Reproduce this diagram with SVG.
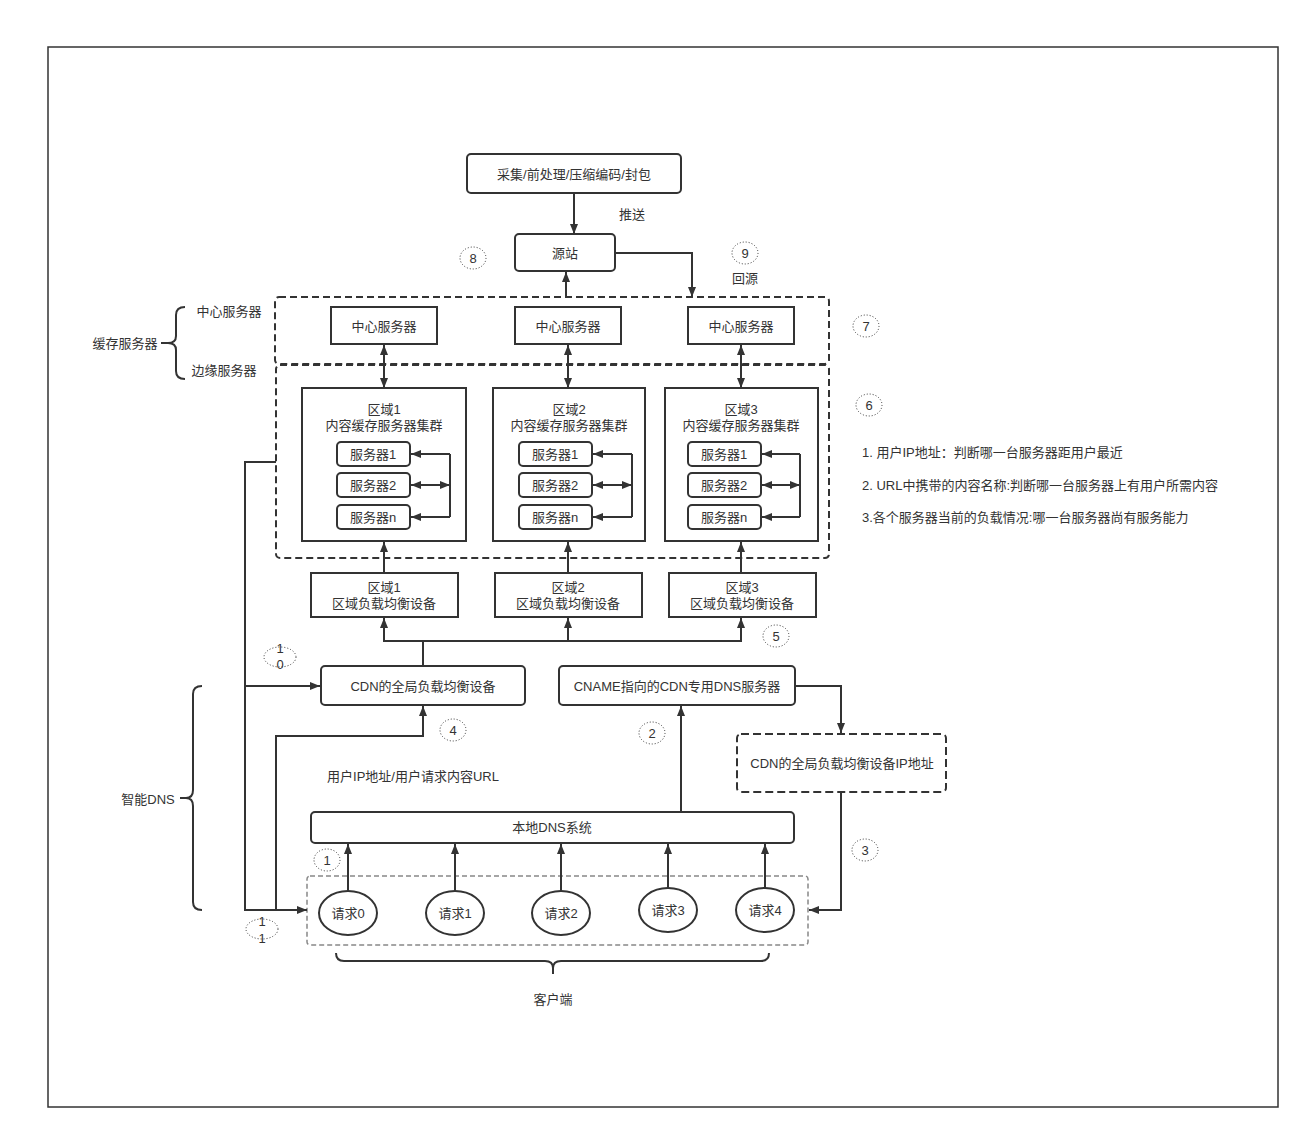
<svg xmlns="http://www.w3.org/2000/svg" width="1310" height="1140" viewBox="0 0 1310 1140">
<style>
  text { font-family: "Liberation Sans", "Noto Sans CJK SC", sans-serif; font-size: 13px; fill: #333; text-anchor: middle; dominant-baseline: central; }
  .lt { text-anchor: start; }
  .box { fill: #fff; stroke: #333; stroke-width: 2; }
  .dash { fill: none; stroke: #333; stroke-width: 2; stroke-dasharray: 7 4; }
  .gdash { fill: none; stroke: #888; stroke-width: 1.5; stroke-dasharray: 5 3; }
  .edge { fill: none; stroke: #333; stroke-width: 2; }
  .arr { marker-end: url(#ah); }
  .both { marker-start: url(#ahs); marker-end: url(#ah); }
  .num { fill: none; stroke: #333; stroke-width: 1; stroke-dasharray: 1 2; }
  .brace { fill: none; stroke: #333; stroke-width: 2; }
</style>
<defs>
  <marker id="ah" viewBox="0 0 10 8" refX="10" refY="4" markerWidth="10" markerHeight="9" markerUnits="userSpaceOnUse" orient="auto">
    <path d="M0,0 L10,4 L0,8 z" fill="#333"/>
  </marker>
  <marker id="ahs" viewBox="0 0 10 8" refX="10" refY="4" markerWidth="10" markerHeight="9" markerUnits="userSpaceOnUse" orient="auto-start-reverse">
    <path d="M0,0 L10,4 L0,8 z" fill="#333"/>
  </marker>
</defs>

<rect x="48" y="47" width="1230" height="1060" fill="#fff" stroke="#333" stroke-width="1.5"/>

<!-- grouping frames -->
<rect class="dash" x="275" y="297" width="554" height="67" rx="4"/>
<rect class="dash" x="276" y="365" width="553" height="193" rx="4"/>
<rect class="gdash" x="307" y="876" width="501" height="69" rx="3"/>

<!-- braces and side labels -->
<g id="brace-cache">
  <path class="brace" d="M185,307 Q176,307 176,315 L176,336 Q176,343 168,343 L161,343 M168,343 Q176,343 176,350 L176,371 Q176,379 185,379"/>
  <text x="125" y="343">缓存服务器</text>
  <text x="229" y="311">中心服务器</text>
  <text x="224" y="370">边缘服务器</text>
</g>
<g id="brace-dns">
  <path class="brace" d="M202,686 Q193,686 193,694 L193,790 Q193,798 186,798 L180,798 M186,798 Q193,798 193,806 L193,902 Q193,910 202,910"/>
  <text x="148" y="799">智能DNS</text>
</g>
<g id="brace-client">
  <path class="brace" d="M336,953 Q336,961 344,961 L545,961 Q553,961 553,968 L553,974 M553,968 Q553,961 561,961 L761,961 Q769,961 769,953"/>
  <text x="553" y="999">客户端</text>
</g>

<!-- nodes -->
<g id="capture"><rect class="box" x="467" y="154" width="214" height="39" rx="4"/><text x="574" y="174">采集/前处理/压缩编码/封包</text></g>
<text x="632" y="214">推送</text>
<g id="origin"><rect class="box" x="515" y="234" width="100" height="37" rx="4"/><text x="565" y="253">源站</text></g>
<text x="745" y="278">回源</text>

<g id="center1"><rect class="box" x="331" y="307" width="106" height="37"/><text x="384" y="326">中心服务器</text></g>
<g id="center2"><rect class="box" x="515" y="307" width="106" height="37"/><text x="568" y="326">中心服务器</text></g>
<g id="center3"><rect class="box" x="688" y="307" width="106" height="37"/><text x="741" y="326">中心服务器</text></g>

<g id="cluster1">
  <rect class="box" x="302" y="388" width="164" height="153"/>
  <text x="384" y="409">区域1</text><text x="384" y="425">内容缓存服务器集群</text>
</g>
<g id="cluster2">
  <rect class="box" x="493" y="388" width="152" height="153"/>
  <text x="569" y="409">区域2</text><text x="569" y="425">内容缓存服务器集群</text>
</g>
<g id="cluster3">
  <rect class="box" x="665" y="388" width="153" height="153"/>
  <text x="741" y="409">区域3</text><text x="741" y="425">内容缓存服务器集群</text>
</g>

<g id="r1s1"><rect class="box" x="337" y="442" width="73" height="24" rx="4"/><text x="373" y="454">服务器1</text></g>
<g id="r1s2"><rect class="box" x="337" y="473" width="73" height="24" rx="4"/><text x="373" y="485">服务器2</text></g>
<g id="r1sn"><rect class="box" x="337" y="505" width="73" height="24" rx="4"/><text x="373" y="517">服务器n</text></g>
<g id="r2s1"><rect class="box" x="519" y="442" width="73" height="24" rx="4"/><text x="555" y="454">服务器1</text></g>
<g id="r2s2"><rect class="box" x="519" y="473" width="73" height="24" rx="4"/><text x="555" y="485">服务器2</text></g>
<g id="r2sn"><rect class="box" x="519" y="505" width="73" height="24" rx="4"/><text x="555" y="517">服务器n</text></g>
<g id="r3s1"><rect class="box" x="688" y="442" width="73" height="24" rx="4"/><text x="724" y="454">服务器1</text></g>
<g id="r3s2"><rect class="box" x="688" y="473" width="73" height="24" rx="4"/><text x="724" y="485">服务器2</text></g>
<g id="r3sn"><rect class="box" x="688" y="505" width="73" height="24" rx="4"/><text x="724" y="517">服务器n</text></g>

<g id="lb1"><rect class="box" x="311" y="573" width="147" height="44"/><text x="384" y="587">区域1</text><text x="384" y="603">区域负载均衡设备</text></g>
<g id="lb2"><rect class="box" x="495" y="573" width="147" height="44"/><text x="568" y="587">区域2</text><text x="568" y="603">区域负载均衡设备</text></g>
<g id="lb3"><rect class="box" x="669" y="573" width="147" height="44"/><text x="742" y="587">区域3</text><text x="742" y="603">区域负载均衡设备</text></g>

<g id="global-lb"><rect class="box" x="321" y="666" width="204" height="39" rx="4"/><text x="423" y="686">CDN的全局负载均衡设备</text></g>
<g id="cname-dns"><rect class="box" x="559" y="666" width="236" height="39" rx="4"/><text x="677" y="686">CNAME指向的CDN专用DNS服务器</text></g>
<g id="global-lb-ip"><rect class="dash" x="737" y="734" width="209" height="58" rx="4" style="stroke-dasharray:8 4"/><text x="842" y="763">CDN的全局负载均衡设备IP地址</text></g>
<text x="413" y="776">用户IP地址/用户请求内容URL</text>
<g id="local-dns"><rect class="box" x="311" y="812" width="483" height="31" rx="4"/><text x="552" y="827">本地DNS系统</text></g>

<g id="req0"><ellipse class="box" cx="348" cy="913" rx="29" ry="22"/><text x="348" y="913">请求0</text></g>
<g id="req1"><ellipse class="box" cx="455" cy="913" rx="29" ry="22"/><text x="455" y="913">请求1</text></g>
<g id="req2"><ellipse class="box" cx="561" cy="913" rx="29" ry="22"/><text x="561" y="913">请求2</text></g>
<g id="req3"><ellipse class="box" cx="668" cy="910" rx="29" ry="22"/><text x="668" y="910">请求3</text></g>
<g id="req4"><ellipse class="box" cx="765" cy="910" rx="29" ry="22"/><text x="765" y="910">请求4</text></g>

<!-- connectors -->
<g id="edges">
  <path class="edge arr" d="M574,194 V234"/>
  <path class="edge arr" d="M566,297 V272"/>
  <path class="edge arr" d="M615,253 H692 V297"/>
  <path class="edge both" d="M384,345 V388"/>
  <path class="edge both" d="M568,345 V388"/>
  <path class="edge both" d="M741,345 V388"/>
  <!-- inner cluster links -->
  <path class="edge" d="M450,454 V517"/>
  <path class="edge arr" d="M450,454 H411"/>
  <path class="edge both" d="M411,485 H450"/>
  <path class="edge arr" d="M450,517 H411"/>
  <path class="edge" d="M632,454 V517"/>
  <path class="edge arr" d="M632,454 H593"/>
  <path class="edge both" d="M593,485 H632"/>
  <path class="edge arr" d="M632,517 H593"/>
  <path class="edge" d="M800,454 V517"/>
  <path class="edge arr" d="M800,454 H762"/>
  <path class="edge both" d="M762,485 H800"/>
  <path class="edge arr" d="M800,517 H762"/>
  <!-- region balancers up to clusters -->
  <path class="edge arr" d="M384,573 V542"/>
  <path class="edge arr" d="M568,573 V542"/>
  <path class="edge arr" d="M741,573 V542"/>
  <!-- global balancer to region balancers -->
  <path class="edge arr" d="M423,666 V641 H384 V618"/>
  <path class="edge arr" d="M423,641 H741 V618"/>
  <path class="edge arr" d="M568,641 V618"/>
  <!-- return paths -->
  <path class="edge arr" d="M276,462 H245 V910 H307"/>
  <path class="edge arr" d="M245,686 H320"/>
  <path class="edge arr" d="M276,910 V736 H423 V706"/>
  <path class="edge arr" d="M681,811 V706"/>
  <path class="edge arr" d="M795,686 H841 V733"/>
  <path class="edge arr" d="M841,793 V910 H809"/>
  <!-- requests to local DNS -->
  <path class="edge arr" d="M348,891 V844"/>
  <path class="edge arr" d="M455,891 V844"/>
  <path class="edge arr" d="M561,891 V844"/>
  <path class="edge arr" d="M668,888 V844"/>
  <path class="edge arr" d="M765,888 V844"/>
</g>

<!-- step numbers -->
<g id="steps">
  <ellipse class="num" cx="327" cy="860" rx="13" ry="11"/><text x="327" y="860">1</text>
  <ellipse class="num" cx="652" cy="733" rx="13" ry="11"/><text x="652" y="733">2</text>
  <ellipse class="num" cx="865" cy="850" rx="13" ry="11"/><text x="865" y="850">3</text>
  <ellipse class="num" cx="453" cy="730" rx="13" ry="11"/><text x="453" y="730">4</text>
  <ellipse class="num" cx="776" cy="636" rx="13" ry="11"/><text x="776" y="636">5</text>
  <ellipse class="num" cx="869" cy="405" rx="13" ry="11"/><text x="869" y="405">6</text>
  <ellipse class="num" cx="866" cy="326" rx="13" ry="11"/><text x="866" y="326">7</text>
  <ellipse class="num" cx="473" cy="258" rx="13" ry="11"/><text x="473" y="258">8</text>
  <ellipse class="num" cx="745" cy="253" rx="13" ry="11"/><text x="745" y="253">9</text>
  <ellipse class="num" cx="280" cy="657" rx="16" ry="10"/><text x="280" y="648">1</text><text x="280" y="664">0</text>
  <ellipse class="num" cx="262" cy="929" rx="16" ry="10"/><text x="262" y="921">1</text><text x="262" y="938">1</text>
</g>

<!-- notes -->
<g id="notes">
  <text class="lt" x="862" y="452">1. 用户IP地址：判断哪一台服务器距用户最近</text>
  <text class="lt" x="862" y="485">2. URL中携带的内容名称:判断哪一台服务器上有用户所需内容</text>
  <text class="lt" x="862" y="517">3.各个服务器当前的负载情况:哪一台服务器尚有服务能力</text>
</g>
</svg>
